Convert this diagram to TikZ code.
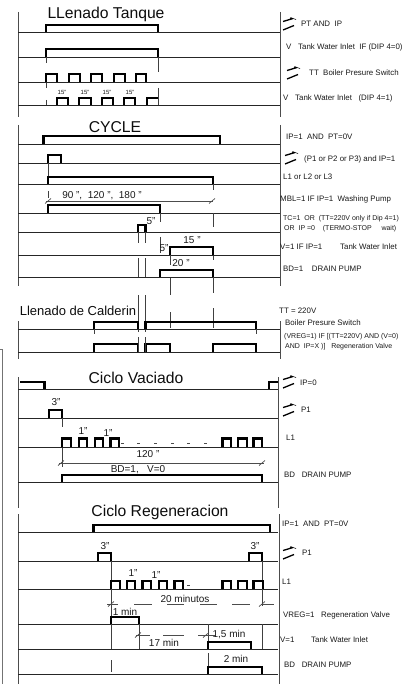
\documentclass[tikz,border=0pt]{standalone}
\usepackage{fontspec}
\setmainfont{Liberation Sans}
\tikzset{
  x=1pt,y=-1pt,
  base/.style={line width=.9pt,black!85},
  rail/.style={line width=.9pt,black!70},
  guide/.style={line width=.9pt,black!75},
  pulse/.style={line width=2.3pt,black,line join=miter},
  dimline/.style={line width=.7pt,black!70},
  lab/.style={anchor=west,inner sep=0pt,font=\fontsize{7.9}{8}\selectfont,black!90},
  labsmall/.style={lab,font=\fontsize{7}{8}\selectfont},
  val/.style={inner sep=0pt,font=\fontsize{10}{11}\selectfont,black!90},
  small/.style={inner sep=0pt,font=\fontsize{6}{7}\selectfont,black!90},
  title/.style={inner sep=0pt,font=\fontsize{15.7}{16}\selectfont,black!95},
}
\newcommand{\pls}[4]{\draw[pulse] (#1,#4) -- (#1,#3) -- (#2,#3) -- (#2,#4);}
\newcommand{\rowline}[3]{\draw[base] (#1,#3) -- (#2,#3);}
\newcommand{\seg}[3]{\draw[guide] (#1,#2) -- (#1,#3);}
\newcommand{\tick}[2]{\draw[dimline] (#1-3,#2+2.5) -- (#1+3,#2-2.5);}
\newcommand{\sw}[2]{%
  \draw[line width=1.3pt] (#1,#2-2.5) -- (#1+10,#2-5.5);
  \draw[line width=.6pt] (#1+10,#2-5.5) -- (#1+13,#2-4.5);
  \fill (#1+8,#2-5.7) circle (1.1pt);
  \draw[line width=1.3pt] (#1,#2+6) -- (#1+11,#2+1.5);
}
\begin{document}
\begin{tikzpicture}
\useasboundingbox (0,0) rectangle (405,684);
% outer left bracket
\draw[line width=1pt,black!55] (0,349) -- (2.5,349) -- (2.5,684);
% rails
\draw[rail] (18,12) -- (18,117);
\draw[rail] (280,12) -- (280,117);
\draw[rail] (18,125) -- (18,286);
\draw[rail] (280,125) -- (280,286);
\draw[rail] (18,321) -- (18,359);
\draw[rail] (280,321) -- (280,359);
\draw[rail] (18,377) -- (18,508);
\draw[rail] (278,377) -- (278,508);
\draw[rail] (18,514) -- (18,684);
\draw[rail] (279,514) -- (279,684);
% Llenado Tanque
\node[title] (t1) at (106,14) {LLenado Tanque};
\rowline{18}{280}{32}
\pls{46}{158}{25}{32}
\rowline{18}{280}{57}
\pls{46}{158}{49}{57}
\seg{46}{57}{63}
\seg{158}{57}{72}
\seg{158}{88}{105}
\seg{46}{82}{88}
\seg{46}{100}{105}
\rowline{18}{280}{82}
\pls{46}{57}{74}{82}
\pls{69}{80}{74}{82}
\pls{91}{102}{74}{82}
\pls{114}{125}{74}{82}
\pls{136}{146}{74}{82}
\rowline{18}{280}{105}
\pls{57}{68}{98}{105}
\pls{79}{91}{98}{105}
\pls{102}{113}{98}{105}
\pls{124}{135}{98}{105}
\draw[pulse] (147,105) -- (147,98) -- (158,98);
\node[small] (d1) at (62,92) {15"};
\node[small] (d2) at (85,92) {15"};
\node[small] (d3) at (107,92) {15"};
\node[small] (d4) at (130,92) {15"};
% CYCLE
\node[title] (t2) at (115,127) {CYCLE};
\rowline{18}{280}{144}
\pls{43.5}{220}{136}{144}
\rowline{18}{280}{163}
\pls{48}{61}{155}{163}
\seg{48}{163}{177}
\rowline{18}{280}{184}
\pls{48}{213}{177}{184}
\seg{48}{191}{198}
\seg{213}{184}{190}
\draw[dimline] (46,201) -- (213,201);
\tick{48}{201}
\tick{212}{201}
\node[val] (c1) at (102,196) {90 ",\ \ 120 ",\ \ 180 "};
\rowline{18}{280}{213}
\pls{48}{160}{205}{213}
\seg{160}{213}{222}
\seg{213}{213}{227}
\rowline{18}{280}{232}
\pls{138}{145.5}{225}{232}
\seg{138}{232}{243}
\seg{145.5}{232}{243}
\node[val] (c2) at (151,221) {5"};
\seg{160}{237}{253}
\seg{213}{247}{260}
\rowline{18}{280}{255}
\pls{170}{213}{247}{255}
\seg{170}{255}{265}
\node[val] (c3) at (192,240) {15 "};
\node[val] (c4) at (164,248) {5"};
\node[val] (c5) at (181,263) {20 "};
\seg{138}{258}{278}
\seg{145.5}{258}{278}
\rowline{18}{280}{277}
\pls{160}{213}{270}{277}
\seg{213}{277}{293}
\seg{170}{278}{295}
\seg{138}{295}{332}
\seg{145.5}{295}{332}
\seg{170}{312}{328}
\seg{213}{308}{328}
% Llenado de Calderin
\node[title,font=\fontsize{13}{14}\selectfont] (t3) at (78,311) {Llenado de Calderin};
\rowline{18}{280}{329}
\pls{94}{138}{322}{329}
\pls{145.5}{256}{322}{329}
\seg{94}{329}{334}
\seg{256}{329}{334}
\rowline{18}{280}{352}
\pls{94}{138}{344}{352}
\pls{145.5}{170}{344}{352}
\pls{213}{256}{344}{352}
\seg{138}{337}{352}
\seg{145.5}{337}{352}
% Ciclo Vaciado
\node[title] (t4) at (136,378) {Ciclo Vaciado};
\rowline{18}{278}{389}
\draw[pulse] (20,382) -- (44.5,382) -- (44.5,389);
\draw[pulse] (269,389) -- (269,382) -- (278,382);
\rowline{18}{278}{418}
\pls{49}{62}{410}{418}
\seg{62}{418}{427}
\seg{62}{438}{467}
\node[val] (v1) at (56,402) {3"};
\rowline{18}{278}{447}
\pls{62}{71}{438.5}{447}
\pls{79}{87}{438.5}{447}
\pls{95}{103}{438.5}{447}
\pls{110.5}{119}{438.5}{447}
\pls{222.5}{231}{438.5}{447}
\pls{238}{247}{438.5}{447}
\pls{253.5}{262}{438.5}{447}
\foreach \dx in {122,138,155,172,188,205} {\draw[dimline] (\dx-1,443) -- (\dx+1.5,443);}
\node[val] (v2) at (83,431) {1"};
\node[val] (v3) at (108,433) {1"};
\node[val] (v4) at (148,454) {120 "};
\draw[dimline] (59,463) -- (264,463);
\tick{61}{463}
\tick{262}{463}
\node[val] (v5) at (138,469.5) {BD=1,\ \ \ V=0};
\rowline{18}{278}{482}
\pls{62}{262}{475}{482}
% Ciclo Regeneracion
\node[title] (t5) at (160,512) {Ciclo Regeneracion};
\rowline{18}{278}{532}
\pls{93.5}{270}{525}{532}
\rowline{18}{278}{561}
\pls{98}{111}{553}{561}
\pls{249}{262}{553}{561}
\seg{111}{561}{581}
\seg{262}{561}{581}
\node[val] (r1) at (105,546) {3"};
\node[val] (r2) at (255,546) {3"};
\rowline{18}{278}{589}
\pls{111}{120}{581}{589}
\pls{127}{135}{581}{589}
\pls{142.5}{151}{581}{589}
\pls{159}{167}{581}{589}
\pls{174.5}{183}{581}{589}
\draw[dimline] (187,585) -- (189.5,585);
\pls{222.5}{231}{581}{589}
\pls{238}{247}{581}{589}
\pls{253.5}{263}{581}{589}
\node[val] (r3) at (133,573) {1"};
\node[val] (r4) at (156,575) {1"};
\seg{111}{589}{617}
\seg{262}{589}{606}
\foreach \xa/\xb in {107/118,134/152,167/184,200/217,232/250,261/274} {\draw[dimline] (\xa,604) -- (\xb,604);}
\tick{111}{604}
\tick{262}{604}
\node[val] (r5) at (185,599) {20 minutos};
\node[val] (r6) at (125,612) {1 min};
\rowline{18}{278}{624}
\pls{111}{139}{617}{624}
\seg{111}{624}{649}
\seg{139}{624}{649}
\seg{208}{624}{642}
\seg{262}{624}{649}
\foreach \xa/\xb in {136/150,163/184,198/215} {\draw[dimline] (\xa,635) -- (\xb,635);}
\tick{138}{635}
\tick{206}{635}
\node[val] (r7) at (164,643) {17 min};
\node[val] (r8) at (229,635) {1,5 min};
\rowline{18}{278}{649}
\pls{208}{251}{642}{649}
\seg{208}{653}{667}
\seg{111}{660}{672}
\node[val] (r9) at (236,659) {2 min};
\rowline{18}{278}{674}
\pls{208}{262}{667}{674}
% right labels
\sw{283}{24}
\node[lab] (a1) at (301,24) {PT AND\ \ IP};
\node[lab] (a2) at (286,47) {V};
\node[lab] (a3) at (298,47) {Tank Water Inlet\ \ IF (DIP 4=0)};
\sw{287}{73}
\node[lab] (a4) at (309,73) {TT\ \ Boiler Presure Switch};
\node[lab] (a5) at (283,98) {V};
\node[lab] (a6) at (295,98) {Tank Water Inlet\ \ \ (DIP 4=1)};
\node[lab] (b1) at (286,137) {IP=1\ \ AND\ \ PT=0V};
\sw{285}{158}
\node[lab] (b2) at (304,159) {(P1 or P2 or P3) and IP=1};
\node[lab] (b3) at (283,177) {L1 or L2 or L3};
\node[lab] (b4) at (280,199) {MBL=1 IF IP=1\ \ Washing Pump};
\node[labsmall] (b5) at (283,219) {TC=1\ \ OR\ \ (TT=220V only if Dip 4=1)};
\node[labsmall] (b6) at (284,229) {OR\ \ IP =0\ \ \ \ (TERMO-STOP\ \ \ \ \ wait)};
\node[lab] (b7) at (280,247) {V=1 IF IP=1};
\node[lab] (b8) at (340,247) {Tank Water Inlet};
\node[lab] (b9) at (283,269) {BD=1\ \ \ \ DRAIN PUMP};
\node[lab] (e1) at (279,311) {TT = 220V};
\node[lab] (e2) at (285,323) {Boiler Presure Switch};
\node[labsmall] (e3) at (284,337) {(VREG=1) IF [(TT=220V) AND (V=0)};
\node[labsmall] (e4) at (285,347) {AND\ \ IP=X )]\ \ \ Regeneration Valve};
\sw{283}{382}
\node[lab] (f1) at (300,383) {IP=0};
\sw{283}{410}
\node[lab] (f2) at (301,410) {P1};
\node[lab] (f3) at (286,438) {L1};
\node[lab] (f4) at (284,475) {BD\ \ \ DRAIN PUMP};
\node[lab] (g1) at (282,524) {IP=1\ \ AND\ \ PT=0V};
\sw{283}{553}
\node[lab] (g2) at (302,553) {P1};
\node[lab] (g3) at (282,582) {L1};
\node[lab] (g4) at (283,615) {VREG=1\ \ \ Regeneration Valve};
\node[lab] (g5) at (280,640) {V=1};
\node[lab] (g6) at (311,640) {Tank Water Inlet};
\node[lab] (g7) at (284,665) {BD\ \ \ DRAIN PUMP};
\end{tikzpicture}
\end{document}
